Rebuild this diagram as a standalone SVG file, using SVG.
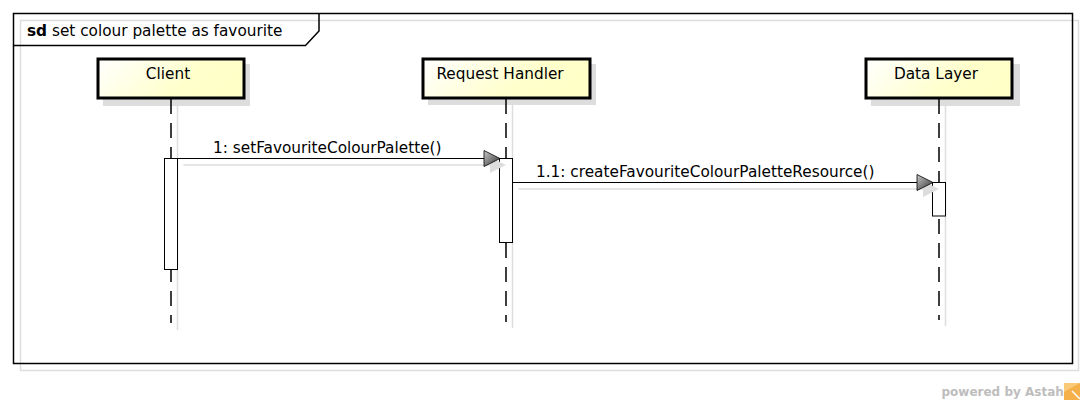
<svg xmlns="http://www.w3.org/2000/svg" width="1085" height="404" viewBox="0 0 1085 404">
<defs>
<linearGradient id="boxfill" x1="0" y1="0" x2="1" y2="0.3">
<stop offset="0" stop-color="#ffffff"/>
<stop offset="0.7" stop-color="#ffffcc"/>
<stop offset="1" stop-color="#ffffc8"/>
</linearGradient>
<linearGradient id="arrowfill" x1="0" y1="0" x2="1" y2="1">
<stop offset="0" stop-color="#c8c8c8"/>
<stop offset="1" stop-color="#303030"/>
</linearGradient>
<style>
.t{font-family:"DejaVu Sans","Liberation Sans",sans-serif;font-size:15.3px;fill:#000}
.box{fill:url(#boxfill);stroke:#000;stroke-width:3}
.shadow{fill:#dddddd;stroke:none}
.sline{stroke:#dddddd;stroke-width:1.5;fill:none}
.life{stroke:#000;stroke-width:1.5;stroke-dasharray:15 9;fill:none}
.act{fill:#fff;stroke:#000;stroke-width:1}
.msg{stroke:#000;stroke-width:1;fill:none}
.head{fill:url(#arrowfill);stroke:#000;stroke-width:0.8}
.shead{fill:#dddddd;stroke:none}
</style>
</defs>
<rect width="1085" height="404" fill="#fff"/>
<g id="frame">
<rect x="20.5" y="20.5" width="1058" height="350" class="sline"/>
<rect x="13.5" y="13.5" width="1059" height="350" fill="none" stroke="#000" stroke-width="1.5"/>
<path d="M13.5 45.5 H305.5 L319 31 V13.5" fill="none" stroke="#000" stroke-width="1.5"/>
<text x="27" y="36" class="t"><tspan font-weight="bold">sd</tspan> set colour palette as favourite</text>
</g>
<g id="client">
<rect x="103" y="64" width="147" height="42" class="shadow"/>
<line x1="177.5" y1="106" x2="177.5" y2="330" class="sline"/>
<rect x="98" y="59" width="146" height="39" class="box"/>
<text x="168" y="79" class="t" text-anchor="middle">Client</text>
<line x1="171" y1="99" x2="171" y2="323" class="life"/>
<rect x="164.5" y="158.5" width="13" height="111" class="act"/>
</g>
<g id="request-handler">
<rect x="428" y="64" width="168" height="41" class="shadow"/>
<line x1="512.5" y1="105" x2="512.5" y2="328" class="sline"/>
<rect x="423" y="59" width="167" height="39" class="box"/>
<text x="500" y="79" class="t" text-anchor="middle">Request Handler</text>
<line x1="506" y1="99" x2="506" y2="322" class="life"/>
<rect x="499.5" y="158.5" width="13" height="84" class="act"/>
</g>
<g id="data-layer">
<rect x="871" y="64" width="149" height="42" class="shadow"/>
<line x1="945.5" y1="106" x2="945.5" y2="326" class="sline"/>
<rect x="866" y="59" width="146" height="39" class="box"/>
<text x="936" y="79" class="t" text-anchor="middle">Data Layer</text>
<line x1="939" y1="99" x2="939" y2="320" class="life"/>
<rect x="932.5" y="182.5" width="13" height="33.5" class="act"/>
</g>
<g id="connectors">
<line x1="183.5" y1="165" x2="490" y2="165" class="sline"/>
<polygon points="490,157 506,165 490,173" class="shead"/>
<line x1="177.5" y1="158.5" x2="484" y2="158.5" class="msg"/>
<polygon points="484,150.5 500,158.5 484,166.5" class="head"/>
<text x="213" y="153" class="t">1: setFavouriteColourPalette()</text>
<line x1="518.5" y1="189" x2="923" y2="189" class="sline"/>
<polygon points="923,181 939,189 923,197" class="shead"/>
<line x1="512.5" y1="182.5" x2="917" y2="182.5" class="msg"/>
<polygon points="917,174.5 933,182.5 917,190.5" class="head"/>
<text x="536" y="177" class="t">1.1: createFavouriteColourPaletteResource()</text>
</g>
<g id="footer">
<text x="941.5" y="396" font-family="DejaVu Sans, sans-serif" font-size="12px" font-weight="bold" fill="#bdbdbd">powered by Astah</text>
<rect x="1064" y="383" width="16" height="17" fill="#f5b04a"/>
<path d="M1064 383 H1080 L1064 392 Z" fill="#f9c978"/>
<path d="M1072 391 L1080 399" stroke="#fff" stroke-width="1.5"/>
</g>
</svg>
